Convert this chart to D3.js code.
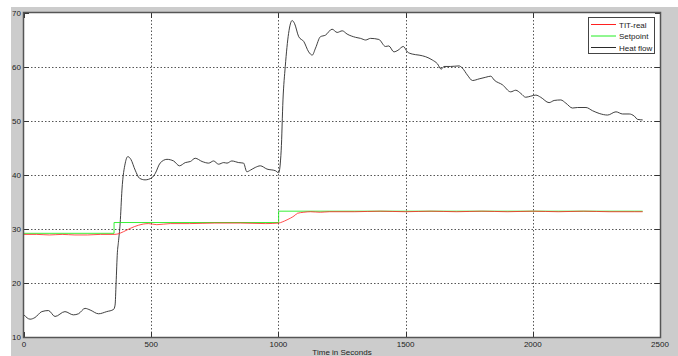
<!DOCTYPE html>
<html><head><meta charset="utf-8">
<script src="https://cdn.jsdelivr.net/npm/d3@7"></script>
<style>body{margin:0;background:#fff}svg{display:block}</style>
</head><body><svg id="c" width="678" height="356"></svg>
<script>
const xTicks=[0,500,1000,1500,2000,2500];
const yTicks=[10,20,30,40,50,60,70];
const xLabel="Time in Seconds";
const seriesNames=["TIT-real","Setpoint","Heat flow"];
const seriesColors=["#ff2020","#22ee22","#2a2a2a"];

const heatT=[0,24,43,70,96,122,161,194,214,240,260,293,325,352,358,362,367,371,378,385,398,408,420,437,454,476,503,516,535,562,588,611,634,654,673,700,726,745,765,785,798,817,844,863,876,890,909,929,955,988,1001,1011,1018,1027,1040,1054,1063,1080,1100,1119,1133,1146,1165,1185,1211,1231,1251,1270,1303,1323,1343,1362,1395,1421,1434,1454,1470,1491,1507,1526,1553,1579,1605,1625,1640,1651,1677,1710,1723,1743,1763,1789,1815,1835,1848,1881,1913,1933,1953,1972,1992,2012,2031,2064,2084,2110,2130,2156,2176,2209,2235,2261,2294,2327,2353,2379,2399,2412,2432];
const heatV=[14.1,13.3,13.6,14.7,14.9,13.8,14.7,14.1,14.3,15.3,15.0,14.3,14.7,15.1,15.9,20,25.6,27.5,31.1,37.2,42.2,43.4,42.9,40.9,39.4,39.1,39.5,40.3,42.2,42.9,42.6,41.7,42.3,42.5,43.1,42.5,42.2,42.6,42.0,42.3,42.2,42.6,42.3,42.2,40.6,40.9,41.4,41.7,41.1,40.8,40.4,44.6,53.9,60.1,66.2,68.6,68.1,65.6,64.7,62.8,62.2,63.5,65.6,65.9,67.0,66.4,66.7,66.1,65.5,65.3,65.0,65.3,65.1,63.8,63.9,62.8,63.1,63.8,62.8,62.4,62.2,61.9,61.3,60.6,59.6,60.1,60.1,60.2,59.8,58.5,57.5,57.8,58.1,58.3,57.6,56.7,55.4,55.7,55.1,54.4,54.6,54.8,54.4,53.4,53.8,53.9,53.3,52.4,52.5,52.5,51.9,51.4,51.1,51.7,51.3,51.3,50.9,50.3,50.2];

const setT=[0,354,1001,2432];
const setV=[29.2,31.2,33.3,33.3];

const titT=[0,50,100,150,200,250,300,354,370,391,417,450,489,522,575,650,750,850,950,1001,1015,1034,1047,1067,1074,1100,1126,1165,1200,1250,1300,1400,1500,1600,1700,1800,1900,2000,2100,2200,2300,2400,2432];
const titV=[29.0,29.0,28.9,29.0,28.9,28.9,29.0,29.0,29.1,29.5,30.1,30.7,31.0,30.8,31.0,31.0,31.1,31.1,31.0,31.1,31.3,31.7,32.0,32.6,32.9,33.1,33.2,33.1,33.2,33.2,33.2,33.3,33.2,33.3,33.2,33.3,33.2,33.3,33.2,33.3,33.2,33.2,33.2];

const W=678,H=356;
const L=24,T=13,R=660,B=337;
const svg=d3.select('#c');
const font='"Liberation Sans", Arial, sans-serif';

svg.append('rect').attr('x',11).attr('y',7).attr('width',W-11).attr('height',H-7).attr('fill','#cccccc');

const x=d3.scaleLinear().domain([0,2500]).range([L,R]);
const y=d3.scaleLinear().domain([10,70]).range([B,T]);

svg.append('rect').attr('x',L).attr('y',T).attr('width',R-L).attr('height',B-T).attr('fill','#fff');

const g=svg.append('g');
g.selectAll('.gx').data(xTicks.filter(d=>d>0&&d<2500)).enter().append('line')
 .attr('x1',d=>Math.round(x(d))+0.5).attr('x2',d=>Math.round(x(d))+0.5).attr('y1',T).attr('y2',B)
 .attr('stroke','#555').attr('stroke-dasharray','1.5,2').attr('stroke-width',1);
g.selectAll('.gy').data(yTicks.filter(d=>d>10&&d<70)).enter().append('line')
 .attr('y1',d=>Math.round(y(d))+0.5).attr('y2',d=>Math.round(y(d))+0.5).attr('x1',L).attr('x2',R)
 .attr('stroke','#555').attr('stroke-dasharray','1.5,2').attr('stroke-width',1);

const tl=5;
xTicks.forEach(d=>{
  const xx=Math.round(x(d))+0.5;
  g.append('line').attr('x1',xx).attr('x2',xx).attr('y1',B).attr('y2',B-tl).attr('stroke','#333');
  g.append('line').attr('x1',xx).attr('x2',xx).attr('y1',T).attr('y2',T+tl).attr('stroke','#333');
});
yTicks.forEach(d=>{
  const yy=Math.round(y(d))+0.5;
  g.append('line').attr('y1',yy).attr('y2',yy).attr('x1',L).attr('x2',L+tl).attr('stroke','#333');
  g.append('line').attr('y1',yy).attr('y2',yy).attr('x1',R).attr('x2',R-tl).attr('stroke','#333');
});

svg.append('clipPath').attr('id','clip').append('rect').attr('x',L).attr('y',T).attr('width',R-L).attr('height',B-T);
const pg=svg.append('g').attr('clip-path','url(#clip)');

const heat=heatT.map((t,i)=>[t,heatV[i]]);
const sp=setT.map((t,i)=>[t,setV[i]]);
const tit=titT.map((t,i)=>[t,titV[i]]);

const lineSmooth=d3.line().x(d=>x(d[0])).y(d=>y(d[1])).curve(d3.curveMonotoneX);
const lineStep=d3.line().x(d=>x(d[0])).y(d=>y(d[1])).curve(d3.curveStepAfter);

pg.append('path').attr('d',lineSmooth(heat)).attr('fill','none').attr('stroke',seriesColors[2]).attr('stroke-width',0.9);
pg.append('path').attr('d',lineStep(sp)).attr('fill','none').attr('stroke',seriesColors[1]).attr('stroke-width',0.9);
pg.append('path').attr('d',lineSmooth(tit)).attr('fill','none').attr('stroke',seriesColors[0]).attr('stroke-width',0.8);

svg.append('rect').attr('x',L-0.5).attr('y',T-0.5).attr('width',R-L+1).attr('height',B-T+1)
 .attr('fill','none').attr('stroke','#555').attr('stroke-width',1.5);

svg.selectAll('.xl').data(xTicks).enter().append('text')
 .attr('x',d=>x(d)).attr('y',B+9.5).attr('text-anchor','middle')
 .attr('font-family',font).attr('font-size',8).attr('fill','#222').text(d=>d);
svg.selectAll('.yl').data(yTicks).enter().append('text')
 .attr('x',L-3).attr('y',d=>y(d)+3).attr('text-anchor','end')
 .attr('font-family',font).attr('font-size',8).attr('fill','#222').text(d=>d);
svg.append('text').attr('x',(L+R)/2).attr('y',355).attr('text-anchor','middle')
 .attr('font-family',font).attr('font-size',8).attr('fill','#222').text(xLabel);

const lg=svg.append('g');
lg.append('rect').attr('x',588.5).attr('y',17.5).attr('width',66).attr('height',36)
 .attr('fill','#fff').attr('stroke','#444').attr('stroke-width',1);
seriesNames.forEach((n,i)=>{
  const yy=24.5+i*11.5;
  lg.append('line').attr('x1',591).attr('x2',616).attr('y1',yy).attr('y2',yy).attr('stroke',seriesColors[i]).attr('stroke-width',1);
  lg.append('text').attr('x',619).attr('y',yy+3).attr('font-family',font).attr('font-size',8).attr('fill','#222').text(n);
});
</script></body></html>
